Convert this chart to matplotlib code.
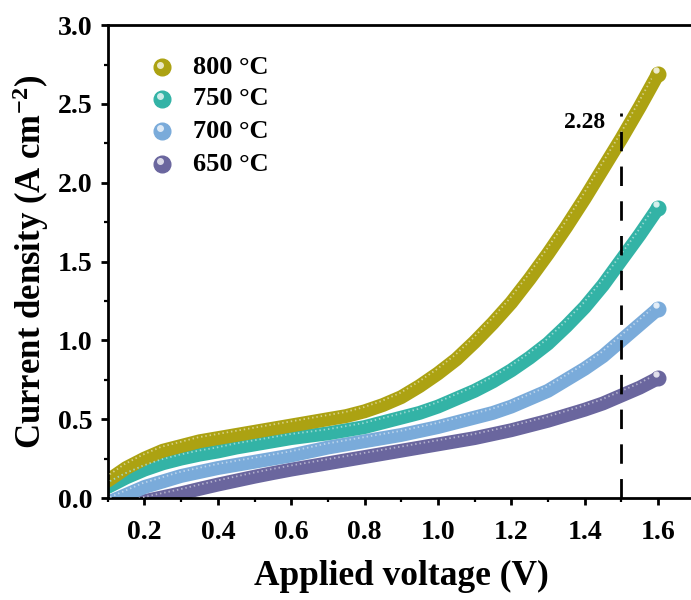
import numpy as np
import matplotlib
matplotlib.use('Agg')
import matplotlib.pyplot as plt
import matplotlib.colors as mcolors
from matplotlib.transforms import offset_copy
from matplotlib.ticker import MultipleLocator

plt.rcParams['font.family'] = 'Liberation Serif'
plt.rcParams['font.weight'] = 'bold'
plt.rcParams['mathtext.default'] = 'regular'

# polarization curves, current density vs applied voltage
voltage = [0.10, 0.15, 0.20, 0.25, 0.30, 0.35, 0.40, 0.45, 0.50, 0.55, 0.60,
           0.65, 0.70, 0.75, 0.80, 0.85, 0.90, 0.95, 1.00, 1.05, 1.10,
           1.15, 1.20, 1.25, 1.30, 1.35, 1.40, 1.45, 1.50, 1.55, 1.60]
j_800 = [0.11, 0.19, 0.25, 0.30, 0.33, 0.36, 0.38, 0.40, 0.42, 0.44, 0.46,
         0.48, 0.50, 0.52, 0.55, 0.59, 0.64, 0.71, 0.79, 0.88, 0.99,
         1.11, 1.24, 1.39, 1.55, 1.72, 1.90, 2.09, 2.28, 2.48, 2.69]
j_750 = [0.07, 0.13, 0.18, 0.22, 0.25, 0.275, 0.295, 0.32, 0.34, 0.36, 0.38,
         0.395, 0.41, 0.43, 0.45, 0.48, 0.51, 0.54, 0.58, 0.63, 0.68,
         0.74, 0.81, 0.89, 0.98, 1.09, 1.21, 1.35, 1.51, 1.67, 1.84]
j_700 = [-0.03, 0.02, 0.07, 0.105, 0.14, 0.165, 0.19, 0.21, 0.23, 0.25, 0.27,
         0.295, 0.32, 0.34, 0.36, 0.38, 0.40, 0.425, 0.45, 0.48, 0.51,
         0.54, 0.58, 0.63, 0.68, 0.75, 0.82, 0.90, 1.00, 1.10, 1.20]
j_650 = [-0.10, -0.06, -0.02, 0.005, 0.03, 0.058, 0.085, 0.11, 0.135, 0.158, 0.18,
         0.20, 0.22, 0.24, 0.26, 0.28, 0.30, 0.32, 0.34, 0.36, 0.38,
         0.405, 0.43, 0.46, 0.49, 0.525, 0.56, 0.60, 0.65, 0.70, 0.76]

labels = ['650 °C', '700 °C', '750 °C', '800 °C']
series = [j_650, j_700, j_750, j_800]
colors = ['#6a669e', '#7aabda', '#33b3a6', '#aca212']

v_mark = 1.5
j_mark = 2.28

fig = plt.figure(figsize=(6.91, 6.0), dpi=100)
ax = fig.add_axes([0.156, 0.17, 0.844, 0.788])

def lighten(c, f):
    r, g, b = mcolors.to_rgb(c)
    return (r + (1 - r) * f, g + (1 - g) * f, b + (1 - b) * f)

hl = offset_copy(ax.transData, fig=fig, x=-1.2, y=2.8, units='points')
for j, c in zip(series, colors):
    ax.plot(voltage, j, color=c, lw=10, solid_capstyle='round',
            solid_joinstyle='round', zorder=2)
    # bead texture along the top of the band
    ax.plot(voltage, j, color=lighten(c, 0.55), lw=1.3, dashes=(0.8, 1.6),
            transform=hl, zorder=3, alpha=0.9)
    ax.plot(voltage[-1], j[-1], 'o', color=c, ms=10.5, zorder=4)
    ax.plot(voltage[-1], j[-1], 'o', color=lighten(c, 0.8), ms=3.5,
            transform=hl, zorder=5)

# dashed guide at 1.5 V
ax.plot([v_mark, v_mark], [0, 2.44], color='black', lw=2, dashes=(7, 5.5), zorder=6)
ax.text(1.455, 2.38, f'{j_mark:.2f}', ha='right', va='center', fontsize=17,
        fontweight='bold', zorder=7)

# legend, top entry is the hottest
leg_y = [0.911, 0.844, 0.776, 0.706]
for y, lab, c in zip(leg_y, labels[::-1], colors[::-1]):
    ax.plot(0.093, y, 'o', color=c, ms=12, transform=ax.transAxes, clip_on=False)
    ax.plot(0.093, y, 'o', color=lighten(c, 0.75), ms=4,
            transform=offset_copy(ax.transAxes, fig=fig, x=-1.5, y=2, units='points'),
            clip_on=False)
    ax.text(0.146, y, lab, transform=ax.transAxes, fontsize=19, fontweight='bold',
            va='center', ha='left')

ax.set_xlim(0.1, 1.69)
ax.set_ylim(0, 3.0)
ax.xaxis.set_minor_locator(MultipleLocator(0.1))
ax.yaxis.set_major_locator(MultipleLocator(0.5))
ax.yaxis.set_minor_locator(MultipleLocator(0.25))
ax.set_xticks([0.2, 0.4, 0.6, 0.8, 1.0, 1.2, 1.4, 1.6])
ax.set_xticklabels(['0.2', '0.4', '0.6', '0.8', '1.0', '1.2', '1.4', '1.6'])

ax.spines['right'].set_visible(False)
for s in ['left', 'bottom', 'top']:
    ax.spines[s].set_linewidth(2)
ax.tick_params(which='major', direction='out', length=5, width=2, labelsize=20, pad=6)
ax.tick_params(which='minor', direction='out', length=3, width=1.6)
ax.tick_params(axis='x', which='major', pad=11)
ax.tick_params(axis='x', top=False)
for t in ax.get_xticklabels() + ax.get_yticklabels():
    t.set_fontweight('bold')

ax.set_xlabel('Applied voltage (V)', fontsize=25.5, fontweight='bold')
ax.set_ylabel('Current density (A cm$^{-2}$)', fontsize=25, fontweight='bold')
ax.xaxis.label.set_va('center')
ax.xaxis.set_label_coords(0.503, -0.165)
ax.yaxis.label.set_va('center')
ax.yaxis.set_label_coords(-0.132, 0.5)

fig.savefig('out.png', dpi=100)
